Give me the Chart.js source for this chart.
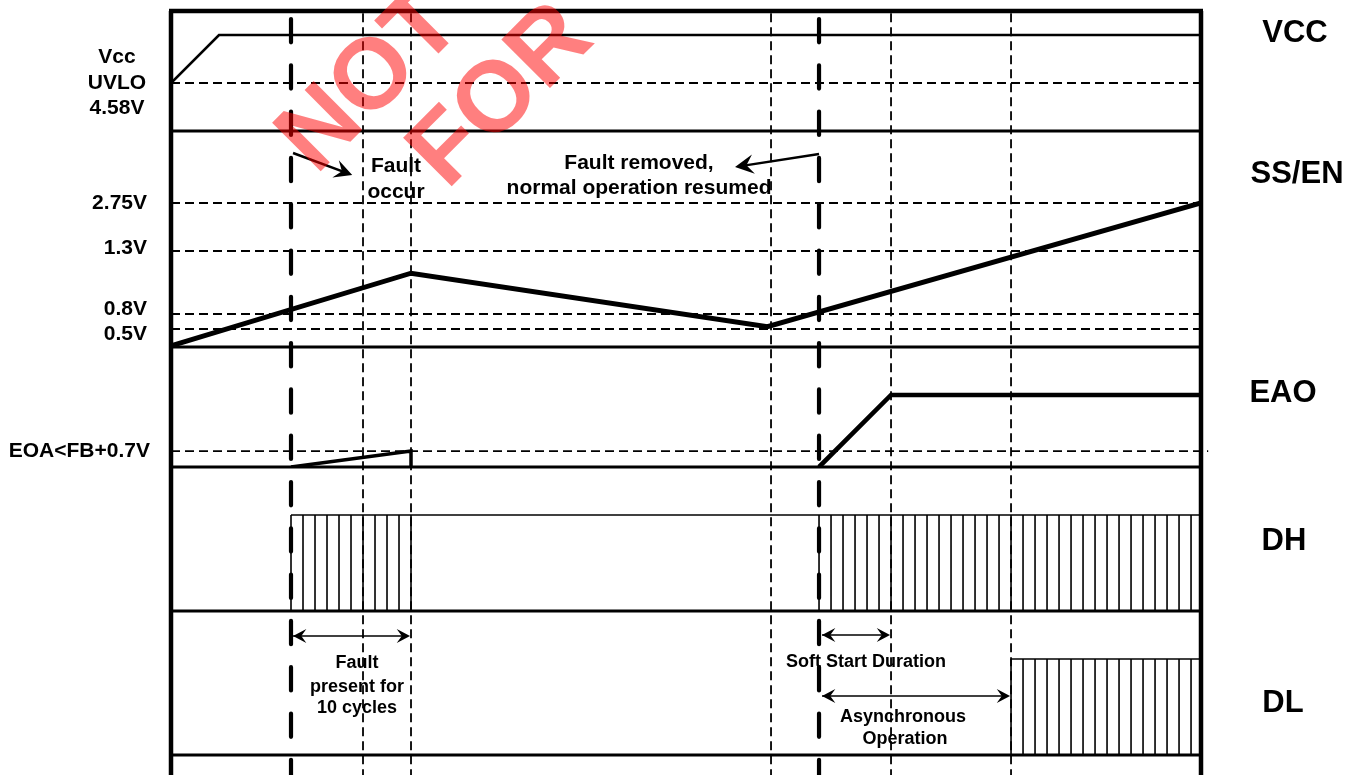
<!DOCTYPE html>
<html>
<head>
<meta charset="utf-8">
<title>Fault timing</title>
<script src="https://cdn.jsdelivr.net/npm/chart.js@4.4.1/dist/chart.umd.min.js"></script>
<style>
  html, body { margin: 0; padding: 0; background: #fff; }
  canvas { display: block; }
</style>
</head>
<body>
<canvas id="timing" width="1362" height="775"></canvas>
<script>
// time runs in switching cycles, every row has its own level axis
const tEnd = 85.83;

const vccTime = [0, 4, 85.83];
const vccLevel = [4, 8, 8];
const vccUvlo = 4;

const ssTime = [0, 20, 49.7, 85.83];
const ssLevel = [0.1, 6.15, 1.7, 12];
const ssThresholdLabels = ['2.75V', '1.3V', '0.8V', '0.5V'];
const ssThresholdLevels = [12, 8, 2.75, 1.5];

const eaoFaultTime = [10, 20, 20];
const eaoFaultLevel = [0, 1.33, 0];
const eaoRunTime = [54, 60, 85.83];
const eaoRunLevel = [0, 6, 6];
const eaoThreshold = 1.33;

const dhEdges = [10, 11, 12, 13, 14, 15, 16, 17, 18, 19, 20,
  54, 55, 56, 57, 58, 59, 60, 61, 62, 63, 64, 65, 66, 67, 68, 69,
  70, 71, 72, 73, 74, 75, 76, 77, 78, 79, 80, 81, 82, 83, 84, 85];
const dhHigh = 8;
const dlEdges = [70, 71, 72, 73, 74, 75, 76, 77, 78, 79, 80, 81, 82, 83, 84, 85];
const dlHigh = 8;

const faultMarks = [10, 54];
const cycleMarks = [16, 20, 50, 60, 70];

const rowNames = ['VCC', 'SS/EN', 'EAO', 'DH', 'DL'];
const rowAxes = ['yVcc', 'ySs', 'yEao', 'yDh', 'yDl'];

// annotations, in time / row-level units
const arrows = [
  { row: 'ySs', from: [10.17, 16.17], to: [15.1, 14.33], heads: 1, width: 2.5, head: 20 },
  { row: 'ySs', from: [54, 16.08], to: [47.0, 15.0], heads: 1, width: 2.5, head: 21 },
  { row: 'yDl', from: [10.17, 9.92], to: [19.92, 9.92], heads: 2, width: 1.5, head: 15 },
  { row: 'yDl', from: [54.25, 10], to: [59.92, 10], heads: 2, width: 1.5, head: 15 },
  { row: 'yDl', from: [54.25, 4.92], to: [69.92, 4.92], heads: 2, width: 1.5, head: 15 }
];
const notes = [
  { row: 'ySs', t: 18.75, lv: 15.08, text: 'Fault', size: 21 },
  { row: 'ySs', t: 18.75, lv: 12.92, text: 'occur', size: 21 },
  { row: 'ySs', t: 39.0, lv: 15.33, text: 'Fault removed,', size: 21 },
  { row: 'ySs', t: 39.0, lv: 13.25, text: 'normal operation resumed', size: 21 },
  { row: 'yDl', t: 15.5, lv: 7.67, text: 'Fault', size: 18 },
  { row: 'yDl', t: 15.5, lv: 5.67, text: 'present for', size: 18 },
  { row: 'yDl', t: 15.5, lv: 3.92, text: '10 cycles', size: 18 },
  { row: 'yDl', t: 57.92, lv: 7.75, text: 'Soft Start Duration', size: 18 },
  { row: 'yDl', t: 61.0, lv: 3.17, text: 'Asynchronous', size: 18 },
  { row: 'yDl', t: 61.17, lv: 1.33, text: 'Operation', size: 18 }
];

function pts(xs, ys) {
  return xs.map((x, i) => ({ x: x, y: ys[i] }));
}
function flat(level, from, to) {
  return [{ x: from, y: level }, { x: to, y: level }];
}
function edges(times, high) {
  const out = [];
  times.forEach(t => out.push({ x: t, y: 0 }, { x: t, y: high }, { x: t, y: null }));
  return out;
}
function solid(data, axis, width) {
  return { data: data, yAxisID: axis, borderColor: '#000', borderWidth: width,
    pointRadius: 0, tension: 0, fill: false, borderJoinStyle: 'miter' };
}
function dashed(data, axis) {
  return Object.assign(solid(data, axis, 1.8), { borderDash: [9, 5] });
}

const datasets = [];
// threshold guides
datasets.push(dashed(flat(vccUvlo, 0, tEnd), 'yVcc'));
ssThresholdLevels.forEach(lv => datasets.push(dashed(flat(lv, 0, tEnd), 'ySs')));
datasets.push(Object.assign(dashed(flat(eaoThreshold, 0, tEnd + 0.6), 'yEao'), { clip: false }));
// time markers
cycleMarks.forEach(t => datasets.push(dashed([{ x: t, y: 0.997 }, { x: t, y: 0 }], 'yAll')));
faultMarks.forEach(t => datasets.push(Object.assign(solid([{ x: t, y: 1 }, { x: t, y: 0 }], 'yAll', 4.2),
  { borderDash: [23.3, 23], borderDashOffset: 38.3, borderCapStyle: 'round' })));
// waveforms
datasets.push(solid(pts(vccTime, vccLevel), 'yVcc', 2.6));
datasets.push(solid(pts(ssTime, ssLevel), 'ySs', 5));
datasets.push(solid(pts(eaoFaultTime, eaoFaultLevel), 'yEao', 3.5));
datasets.push(solid(pts(eaoRunTime, eaoRunLevel), 'yEao', 4.6));
datasets.push(solid(flat(dhHigh, dhEdges[0], tEnd), 'yDh', 1.4));
datasets.push(solid(edges(dhEdges, dhHigh), 'yDh', 1.6));
datasets.push(solid(flat(dlHigh, dlEdges[0], tEnd), 'yDl', 1.4));
datasets.push(solid(edges(dlEdges, dlHigh), 'yDl', 1.6));

function rowScale(max, weight) {
  return { type: 'linear', position: 'right', stack: 'rows', stackWeight: weight,
    min: 0, max: max, display: false };
}

function arrowHead(ctx, x, y, ang, L) {
  const N = L * 0.55, s = 0.48;
  ctx.beginPath();
  ctx.moveTo(x, y);
  ctx.lineTo(x - L * Math.cos(ang - s), y - L * Math.sin(ang - s));
  ctx.lineTo(x - N * Math.cos(ang), y - N * Math.sin(ang));
  ctx.lineTo(x - L * Math.cos(ang + s), y - L * Math.sin(ang + s));
  ctx.closePath();
  ctx.fill();
}

const sheetPlugin = {
  id: 'sheet',
  afterDatasetsDraw(chart) {
    const ctx = chart.ctx;
    const area = chart.chartArea;
    const sc = chart.scales;
    const X = v => sc.x.getPixelForValue(v);
    const seg = (x1, y1, x2, y2) => { ctx.beginPath(); ctx.moveTo(x1, y1); ctx.lineTo(x2, y2); ctx.stroke(); };
    const font = (size) => 'bold ' + size + 'px "Liberation Sans", Arial, sans-serif';

    ctx.save();
    ctx.strokeStyle = '#000';
    ctx.fillStyle = '#000';

    // row separators and frame
    ctx.lineWidth = 3;
    rowAxes.forEach(id => seg(area.left, sc[id].bottom, area.right, sc[id].bottom));
    ctx.lineWidth = 4.5;
    seg(area.left - 2, area.top, area.right + 2, area.top);
    seg(area.left, area.top, area.left, chart.height);
    seg(area.right, area.top, area.right, chart.height);

    // arrows
    arrows.forEach(a => {
      const y = sc[a.row];
      const x1 = X(a.from[0]), y1 = y.getPixelForValue(a.from[1]);
      const x2 = X(a.to[0]), y2 = y.getPixelForValue(a.to[1]);
      const ang = Math.atan2(y2 - y1, x2 - x1);
      ctx.lineWidth = a.width;
      seg(x1, y1, x2 - 4 * Math.cos(ang), y2 - 4 * Math.sin(ang));
      arrowHead(ctx, x2, y2, ang, a.head);
      if (a.heads === 2) arrowHead(ctx, x1, y1, ang + Math.PI, a.head);
    });

    // annotation text
    ctx.textAlign = 'center';
    ctx.textBaseline = 'middle';
    notes.forEach(n => {
      ctx.font = font(n.size);
      ctx.fillText(n.text, X(n.t), sc[n.row].getPixelForValue(n.lv));
    });

    // left labels
    ctx.font = font(21);
    const yu = sc.yVcc.getPixelForValue(vccUvlo);
    ctx.fillText('Vcc', area.left - 54, yu - 26);
    ctx.fillText('UVLO', area.left - 54, yu);
    ctx.fillText('4.58V', area.left - 54, yu + 25);
    ctx.textAlign = 'right';
    const nudge = [0, -3, -5, 5];
    ssThresholdLabels.forEach((txt, i) => {
      ctx.fillText(txt, area.left - 24, sc.ySs.getPixelForValue(ssThresholdLevels[i]) + nudge[i]);
    });
    ctx.fillText('EOA<FB+0.7V', area.left - 21, sc.yEao.getPixelForValue(eaoThreshold));

    // right row names
    ctx.textAlign = 'center';
    ctx.font = font(31);
    const nameLevels = [8.17, 14.4, 6.17, 5.83, 4.33];
    const nameX = [94, 96, 82, 83, 82];
    rowNames.forEach((name, i) => {
      ctx.fillText(name, area.right + nameX[i], sc[rowAxes[i]].getPixelForValue(nameLevels[i]));
    });
    ctx.restore();
  },
  afterDraw(chart) {
    const ctx = chart.ctx;
    ctx.save();
    ctx.fillStyle = 'rgba(255, 0, 0, 0.5)';
    ctx.font = 'bold 100px "Liberation Sans", Arial, sans-serif';
    ctx.textAlign = 'left';
    ctx.textBaseline = 'alphabetic';
    [['NOT', 316, 176], ['FOR', 447, 191]].forEach(w => {
      ctx.save();
      ctx.translate(w[1], w[2]);
      ctx.rotate(-Math.PI / 4);
      ctx.fillText(w[0], 0, 0);
      ctx.restore();
    });
    ctx.restore();
  }
};

new Chart(document.getElementById('timing'), {
  type: 'line',
  data: { datasets: datasets },
  options: {
    responsive: false,
    animation: false,
    events: [],
    layout: { padding: { left: 171, right: 161, top: 11, bottom: 0 } },
    plugins: { legend: { display: false }, tooltip: { enabled: false } },
    scales: {
      x: { type: 'linear', min: 0, max: tEnd, display: false },
      yVcc: rowScale(10, 10),
      ySs: rowScale(18, 18),
      yEao: rowScale(10, 10),
      yDh: rowScale(12, 12),
      yDl: rowScale(12, 12),
      yTail: rowScale(1.667, 1.667),
      yAll: { type: 'linear', position: 'left', min: 0, max: 1, display: false }
    }
  },
  plugins: [sheetPlugin]
});
</script>
</body>
</html>
